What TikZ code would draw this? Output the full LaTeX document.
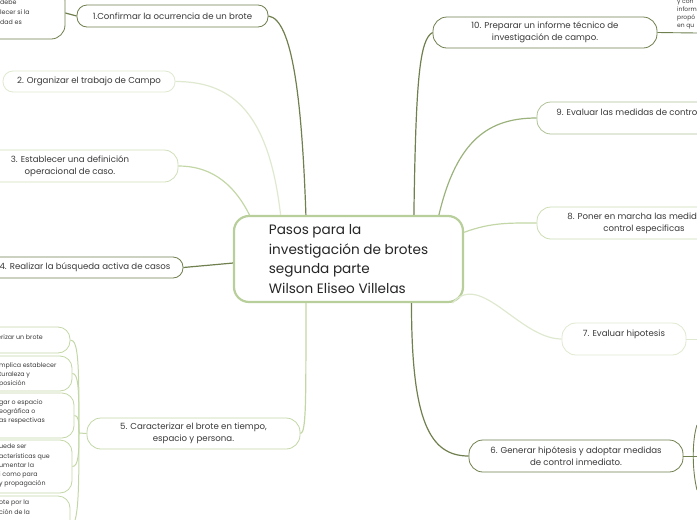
\documentclass[tikz,border=0pt]{standalone}
\usepackage{fontspec}
\setmainfont{Poppins}
\usetikzlibrary{positioning}
\definecolor{tinta}{HTML}{3A3A3A}
\definecolor{oscuro}{HTML}{6F7F4E}
\definecolor{medio}{HTML}{9BB27C}
\definecolor{claro}{HTML}{C3D7A6}
\definecolor{suave}{HTML}{DEE9CF}
\definecolor{centro}{HTML}{B9CF9B}

\begin{document}
\begin{tikzpicture}[x=1pt,y=-1pt,text=tinta,font=\fontsize{8.6}{12}\selectfont,
 paso/.style={draw,fill=white,rounded corners=10pt,line width=.8pt,inner sep=0pt,align=center},
 hoja/.style={draw=claro,fill=white,rounded corners=12pt,line width=.8pt,inner sep=0pt},
 hojatexto/.style={font=\fontsize{6.3}{9.2}\selectfont,align=left,inner sep=0pt,anchor=north west},
 rama/.style={line width=1.2pt}]
\useasboundingbox (0,0) rectangle (697,520);
\clip (0,0) rectangle (697,520);

% centro
\node[draw=centro,line width=2.2pt,rounded corners=15pt,fill=white,minimum width=229pt,minimum height=86pt,
 align=left,font=\fontsize{13.6}{19.5}\selectfont,text=black!85] (pasos) at (348.5,259)
 {Pasos para la\\investigación de brotes\\segunda parte\\Wilson Eliseo Villelas};

% lado izquierdo
\node[paso,draw=oscuro,minimum width=191pt,minimum height=22pt] (confirmar) at (172.5,16) {1.Confirmar la ocurrencia de un brote};
\node[paso,draw=oscuro,rounded corners=14pt,minimum width=125pt,minimum height=52pt] (brote) at (2.5,13) {};
\node[hojatexto,font=\fontsize{6.3}{10}\selectfont] (brotetexto) at (0,0) {debe\\lecer si la\\dad es};
\node[paso,draw=suave,minimum width=172pt,minimum height=21pt] (organizar) at (89,81.5) {2. Organizar el trabajo de Campo};
\node[paso,draw=claro!80,rounded corners=14pt,minimum width=216pt,minimum height=32pt] (definicion) at (70,166) {3. Establecer una definición\\operacional de caso.};
\node[paso,draw=oscuro,minimum width=196pt,minimum height=21pt] (busqueda) at (85,267.5) {4. Realizar la búsqueda activa de casos};
\node[paso,draw=claro,rounded corners=14pt,minimum width=213pt,minimum height=31pt] (caracterizar) at (193.5,433.5) {5. Caracterizar el brote en tiempo,\\espacio y persona.};

% hojas del paso 5
\node[hoja,minimum width=120pt,minimum height=26pt] (hojaA) at (10,340) {};
\node[hoja,minimum width=130pt,minimum height=35pt] (hojaB) at (7,373.5) {};
\node[hoja,minimum width=130pt,minimum height=45pt] (hojaC) at (9,415.5) {};
\node[hoja,minimum width=130pt,minimum height=53pt] (hojaD) at (7,466.5) {};
\node[hoja,minimum width=130pt,minimum height=60pt] (hojaE) at (5,526) {};
\node[hojatexto] (textoA) at (-3,335) {erizar un brote};
\node[hojatexto] (textoB) at (-1,362.5) {mplica establecer\\turaleza y\\posición};
\node[hojatexto] (textoC) at (-1,399.5) {gar o espacio\\eográfica o\\as respectivas};
\node[hojatexto] (textoD) at (-1,444) {uede ser\\acterísticas que\\umentar la\\i como para\\y propagación};
\node[hojatexto] (textoE) at (-1,500) {ote por la\\ción de la};

% lado derecho
\node[paso,draw=oscuro,rounded corners=14pt,minimum width=224pt,minimum height=31pt] (informe) at (545,32.5) {10. Preparar un informe técnico de\\investigación de campo.};
\node[hojatexto,font=\fontsize{6}{8}\selectfont] (informetexto) at (677,0) {y con\\inform\\propó\\en qu};
\coordinate (informefin) at (697,33);
\node[paso,draw=medio!80,rounded corners=14pt,minimum width=182pt,minimum height=32pt] (evaluarmed) at (628,118) {9. Evaluar las medidas de control\\ \mbox{}};
\node[paso,draw=claro!85,rounded corners=14pt,minimum width=214pt,minimum height=32pt] (poner) at (644,223) {8. Poner en marcha las medidas de\\control especificas};
\node[paso,draw=suave,rounded corners=14pt,minimum width=124pt,minimum height=32pt] (hipotesis) at (624,339) {7. Evaluar hipotesis\\ \mbox{}};
\coordinate (hipotesisfin) at (697,339);
\node[paso,draw=oscuro,rounded corners=14pt,minimum width=214pt,minimum height=32pt] (generar) at (576,456) {6. Generar hipótesis y adoptar medidas\\de control inmediato.};
\coordinate (generarfin) at (697,456);
\coordinate (espina6a) at (697,425);
\coordinate (espina6b) at (697,490);

% ramas
\draw[rama,oscuro] (pasos.134) .. controls +(-4,-115) and +(24,3) .. (confirmar.east);
\draw[rama,oscuro] (confirmar.west) -- (brote.east);
\draw[rama,suave] (pasos.147) .. controls +(-12,-105) and +(55,0) .. (organizar.east);
\draw[rama,claro] (pasos.156) .. controls +(-18,-36) and +(28,0) .. (definicion.east);
\draw[rama,oscuro] (pasos.182) .. controls +(-25,3) .. (busqueda.east);
\draw[rama,claro] (pasos.226) .. controls +(0,95) and +(6,0) .. (caracterizar.east);
\coordinate (espina) at (79,433);
\draw[rama,claro,line width=1pt] (caracterizar.west) -- (espina) .. controls +(0,-70) and +(8,0) .. (hojaA.east);
\draw[rama,claro,line width=1pt] (espina) .. controls +(0,-45) and +(6,0) .. (hojaB.east);
\draw[rama,claro,line width=1pt] (espina) .. controls +(0,-12) and +(4,0) .. (hojaC.east);
\draw[rama,claro,line width=1pt] (espina) .. controls +(0,20) and +(6,0) .. (hojaD.east);
\draw[rama,claro,line width=1pt] (espina) .. controls +(0,60) and +(8,0) .. (hojaE.east);
\draw[rama,oscuro] (pasos.34.5) .. controls +(2,-136) and +(-13,7) .. (informe.west);
\draw[rama,oscuro,line width=.9pt] (informe.east) -- (informefin);
\draw[rama,medio] (pasos.26) .. controls +(18,-76) and +(-47,0) .. (evaluarmed.west);
\draw[rama,claro] (pasos.13) .. controls +(27,-10) and +(-27,0) .. (poner.west);
\draw[rama,suave] (pasos.337) .. controls +(28,-33) and +(-42,0) .. (hipotesis.west);
\draw[rama,suave,line width=.9pt] (hipotesis.east) -- (hipotesisfin);
\draw[rama,oscuro] (pasos.325.5) .. controls +(0,118) and +(-39,0) .. (generar.west);
\draw[rama,oscuro,line width=.9pt] (generar.east) -- (generarfin);
\draw[rama,oscuro,line width=.9pt] (espina6a) .. controls +(-5,15) and +(-5,-20) .. (espina6b);
\end{tikzpicture}
\end{document}
